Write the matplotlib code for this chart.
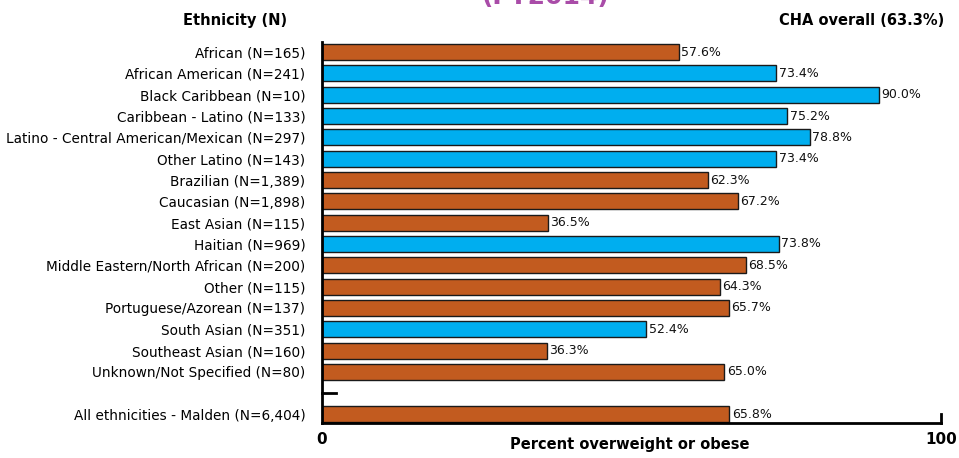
import matplotlib.pyplot as plt

categories = [
    "African (N=165)",
    "African American (N=241)",
    "Black Caribbean (N=10)",
    "Caribbean - Latino (N=133)",
    "Latino - Central American/Mexican (N=297)",
    "Other Latino (N=143)",
    "Brazilian (N=1,389)",
    "Caucasian (N=1,898)",
    "East Asian (N=115)",
    "Haitian (N=969)",
    "Middle Eastern/North African (N=200)",
    "Other (N=115)",
    "Portuguese/Azorean (N=137)",
    "South Asian (N=351)",
    "Southeast Asian (N=160)",
    "Unknown/Not Specified (N=80)",
    "All ethnicities - Malden (N=6,404)",
]
values = [57.6, 73.4, 90.0, 75.2, 78.8, 73.4, 62.3, 67.2, 36.5, 73.8,
          68.5, 64.3, 65.7, 52.4, 36.3, 65.0, 65.8]
highlight = [False, True, True, True, True, True, False, False, False, True,
             False, False, False, True, False, False, False]

ORANGE = "#C25B1F"
BLUE = "#00AEEF"
PURPLE = "#A94CA8"

plt.rcParams["font.family"] = "DejaVu Sans"

fig = plt.figure(figsize=(9.59, 4.58), dpi=100)
ax = fig.add_axes([0.3358, 0.0764, 0.6454, 0.8316])

# empty slot before the summary row
ypos = list(range(16)) + [17]
colors = [BLUE if h else ORANGE for h in highlight]

ax.barh(ypos, values, height=0.75, color=colors, edgecolor="#1a1a1a",
        linewidth=1.0, zorder=2)
for y, v in zip(ypos, values):
    ax.text(v + 0.4, y, f"{v:.1f}%", va="center", ha="left", fontsize=9,
            color="#111111")

ax.set_xlim(0, 100)
ax.set_ylim(17.4, -0.47)
ax.set_yticks(ypos)
ax.set_yticklabels(categories, fontsize=9.8)
ax.tick_params(axis="y", length=0, pad=12)
ax.set_xticks([])

for s in ["top", "right"]:
    ax.spines[s].set_visible(False)
ax.spines["left"].set_linewidth(2)
ax.spines["bottom"].set_linewidth(2)

# short tick in the gap row and at the end of the x axis
ax.plot([0, 2.3], [16, 16], color="black", lw=2, clip_on=False)
ax.plot([100, 100], [17.4, 17.0], color="black", lw=2, clip_on=False)

fig.text(0.569, 0.981, "(FY2014)", ha="center", va="bottom", fontsize=18,
         fontweight="bold", color=PURPLE)
fig.text(0.245, 0.955, "Ethnicity (N)", ha="center", va="center",
         fontsize=10.5, fontweight="bold")
fig.text(0.985, 0.955, "CHA overall (63.3%)", ha="right", va="center",
         fontsize=10.5, fontweight="bold")
fig.text(0.657, 0.03, "Percent overweight or obese", ha="center",
         va="center", fontsize=10.5, fontweight="bold")
fig.text(0.3358, 0.04, "0", ha="center", va="center", fontsize=11,
         fontweight="bold")
fig.text(0.9812, 0.04, "100", ha="center", va="center", fontsize=11,
         fontweight="bold")

fig.savefig("out.png", dpi=100)
